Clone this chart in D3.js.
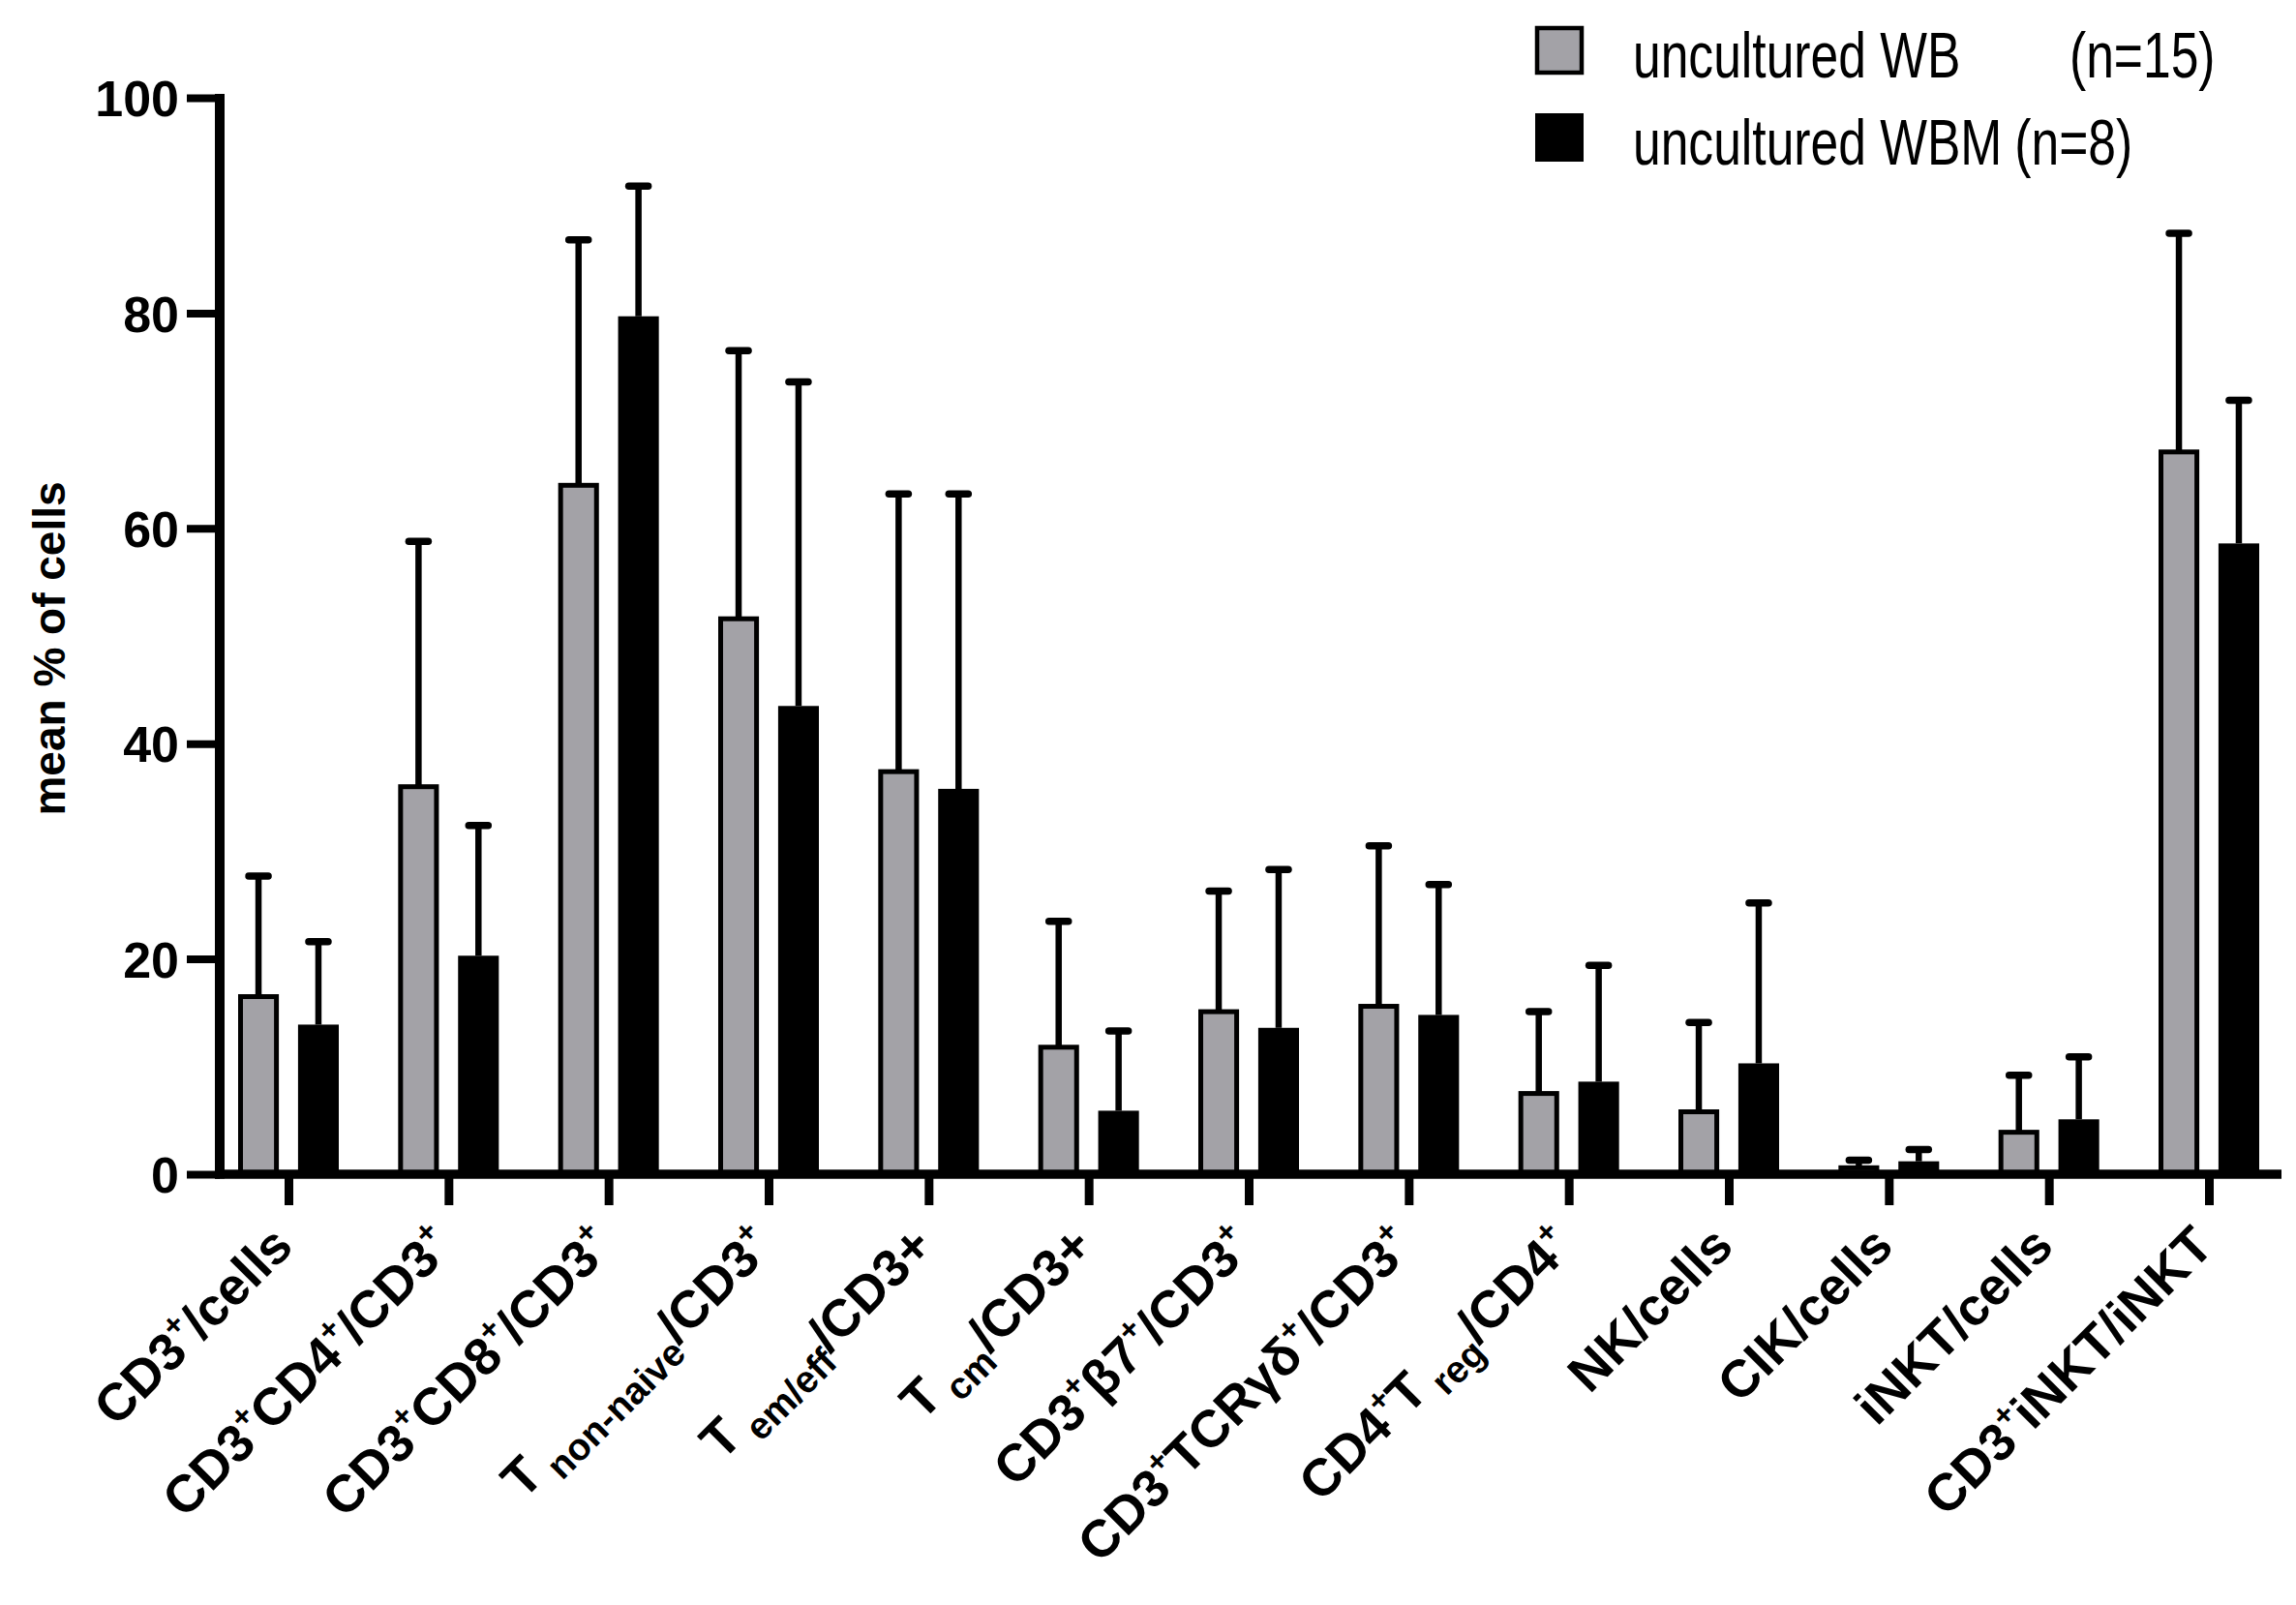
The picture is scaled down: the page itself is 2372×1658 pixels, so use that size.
<!DOCTYPE html>
<html>
<head>
<meta charset="utf-8">
<script src="https://cdn.jsdelivr.net/npm/d3@7"></script>
<style>
  body { margin: 0; background: #fff; }
  svg { display: block; }
</style>
</head>
<body>
<svg id="chart"></svg>
<script>
// categories, ^{} = superscript, _{} = subscript
const categories = [
  "CD3^{+}/cells",
  "CD3^{+}CD4^{+}/CD3^{+}",
  "CD3^{+}CD8^{+}/CD3^{+}",
  "T_{non-naive}/CD3^{+}",
  "T_{em/eff}/CD3+",
  "T_{cm}/CD3+",
  "CD3^{+}β7^{+}/CD3^{+}",
  "CD3^{+}TCRγδ^{+}/CD3^{+}",
  "CD4^{+}T_{reg}/CD4^{+}",
  "NK/cells",
  "CIK/cells",
  "iNKT/cells",
  "CD3^{+}iNKT/iNKT"
];

// uncultured WB (n=15)
const wbMean = [16.5, 36.0, 64.0, 51.6, 37.4, 11.8, 15.1, 15.6, 7.5, 5.8, 0.6, 3.9, 67.1];
const wbSd   = [11.2, 22.8, 22.8, 24.9, 25.8, 11.7, 11.2, 14.9, 7.6, 8.3, 0.7, 5.3, 20.3];

// uncultured WBM (n=8)
const wbmMean = [13.9, 20.3, 79.7, 43.5, 35.8, 5.9, 13.6, 14.8, 8.6, 10.3, 1.2, 5.1, 58.6];
const wbmSd   = [7.7, 12.1, 12.1, 30.1, 27.4, 7.4, 14.7, 12.1, 10.8, 14.9, 1.1, 5.8, 13.3];

const seriesKeys = ["WB", "WBM"];
const legendLabels = ["uncultured WB", "uncultured WBM"];
const legendN = ["(n=15)", "(n=8)"];
const yTicks = [0, 20, 40, 60, 80, 100];
const yTitle = "mean % of cells";

const W = 2372, H = 1658;
const axisX = 227, axisY = 1213, axisRight = 2357;
const grayFill = "#a3a2a7";

const svg = d3.select("#chart").attr("width", W).attr("height", H);

const y = d3.scaleLinear().domain([0, 100]).range([axisY, 101]);
const x = d3.scalePoint().domain(categories).range([298, 2282]);
const xSub = d3.scaleBand().domain(seriesKeys).range([-52, 52]).paddingInner(0.32);

const rows = categories.map((c, i) => ({
  cat: c,
  vals: [
    { key: "WB", mean: wbMean[i], sd: wbSd[i] },
    { key: "WBM", mean: wbmMean[i], sd: wbmSd[i] }
  ]
}));

// bars
const groups = svg.append("g").selectAll("g")
  .data(rows)
  .join("g")
  .attr("transform", d => `translate(${x(d.cat)},0)`);

const bw = xSub.bandwidth();

groups.selectAll("rect")
  .data(d => d.vals)
  .join("rect")
  .attr("x", d => d.key === "WB" ? xSub(d.key) + 2.5 : xSub(d.key))
  .attr("width", d => d.key === "WB" ? bw - 5 : bw)
  .attr("y", d => y(d.mean))
  .attr("height", d => axisY - y(d.mean))
  .attr("fill", d => d.key === "WB" ? grayFill : "#000")
  .attr("stroke", d => d.key === "WB" ? "#000" : "none")
  .attr("stroke-width", 5);

// error bars (upper only)
groups.selectAll("line.stem")
  .data(d => d.vals)
  .join("line")
  .attr("class", "stem")
  .attr("x1", d => xSub(d.key) + bw / 2)
  .attr("x2", d => xSub(d.key) + bw / 2)
  .attr("y1", d => y(d.mean))
  .attr("y2", d => y(d.mean + d.sd))
  .attr("stroke", "#000")
  .attr("stroke-width", 6.5);

groups.selectAll("line.cap")
  .data(d => d.vals)
  .join("line")
  .attr("class", "cap")
  .attr("x1", d => xSub(d.key) + bw / 2 - 10)
  .attr("x2", d => xSub(d.key) + bw / 2 + 10)
  .attr("y1", d => y(d.mean + d.sd))
  .attr("y2", d => y(d.mean + d.sd))
  .attr("stroke", "#000")
  .attr("stroke-width", 7.5)
  .attr("stroke-linecap", "round");

// y axis
const yAxis = svg.append("g")
  .attr("transform", `translate(${axisX},0)`)
  .call(d3.axisLeft(y).tickValues(yTicks).tickSize(34).tickSizeOuter(0).tickPadding(8));
yAxis.select(".domain").remove();
yAxis.append("line")
  .attr("x1", 0).attr("x2", 0)
  .attr("y1", axisY + 4.5).attr("y2", y(100) - 4)
  .attr("stroke", "#000").attr("stroke-width", 10);
yAxis.selectAll(".tick line").attr("stroke-width", 8);
yAxis.selectAll(".tick text")
  .attr("font-family", "'Liberation Sans', Arial, sans-serif")
  .attr("font-weight", "bold")
  .attr("font-size", 52)
  .attr("fill", "#000")
  .attr("dy", "0.36em");

// x axis
const xAxis = svg.append("g")
  .attr("transform", `translate(0,${axisY})`)
  .call(d3.axisBottom(x).tickSize(32).tickSizeOuter(0).tickFormat(""));
xAxis.select(".domain").remove();
xAxis.selectAll(".tick line").attr("stroke-width", 9);
xAxis.append("line")
  .attr("x1", axisX - 5).attr("x2", axisRight)
  .attr("y1", 0).attr("y2", 0)
  .attr("stroke", "#000").attr("stroke-width", 9.5);

// category labels with sub/superscripts
const fs = 54;
function parseLabel(s) {
  const parts = [];
  const re = /\^\{([^}]*)\}|_\{([^}]*)\}|([^\^_]+)/g;
  let m;
  while ((m = re.exec(s)) !== null) {
    if (m[1] !== undefined) parts.push({ type: "sup", text: m[1] });
    else if (m[2] !== undefined) parts.push({ type: "sub", text: m[2] });
    else parts.push({ type: "normal", text: m[3] });
  }
  return parts;
}

categories.forEach(c => {
  const t = svg.append("text")
    .attr("transform", `translate(${x(c) + 7},${axisY + 77}) rotate(-45)`)
    .attr("text-anchor", "end")
    .attr("font-family", "'Liberation Sans', Arial, sans-serif")
    .attr("font-weight", "bold")
    .attr("font-size", fs)
    .attr("fill", "#000");
  let shift = 0;
  parseLabel(c).forEach(p => {
    const target = p.type === "sup" ? -0.42 * fs : p.type === "sub" ? 0.26 * fs : 0;
    const ts = t.append("tspan").text(p.text).attr("dy", target - shift);
    shift = target;
    if (p.type === "sup") ts.attr("font-size", fs * 0.6);
    if (p.type === "sub") ts.attr("font-size", fs * 0.72).attr("dx", fs * 0.18);
  });
});

// y title
svg.append("text")
  .attr("transform", `translate(67,670) rotate(-90)`)
  .attr("text-anchor", "middle")
  .attr("font-family", "'Liberation Sans', Arial, sans-serif")
  .attr("font-weight", "bold")
  .attr("font-size", 46)
  .attr("fill", "#000")
  .text(yTitle);

// legend
const legend = svg.append("g").attr("transform", "translate(1586,27)");
const legItems = legend.selectAll("g")
  .data(seriesKeys)
  .join("g")
  .attr("transform", (d, i) => `translate(0,${i * 90})`);
legItems.append("rect")
  .attr("x", d => d === "WB" ? 2 : 0)
  .attr("y", d => d === "WB" ? 2 : 0)
  .attr("width", d => d === "WB" ? 46 : 50)
  .attr("height", d => d === "WB" ? 46 : 50)
  .attr("fill", d => d === "WB" ? grayFill : "#000")
  .attr("stroke", d => d === "WB" ? "#000" : "none")
  .attr("stroke-width", 4.5);
const legScale = 0.77;
const legText = legItems.append("text")
  .attr("transform", `translate(101,53) scale(${legScale},1)`)
  .attr("font-family", "'Liberation Sans', Arial, sans-serif")
  .attr("font-size", 67)
  .attr("fill", "#000");
legText.append("tspan").text((d, i) => legendLabels[i]);
legText.append("tspan")
  .attr("x", (d, i) => i === 0 ? (2138 - 1687) / legScale : null)
  .attr("dx", (d, i) => i === 0 ? null : 17)
  .text((d, i) => legendN[i]);
</script>
</body>
</html>
